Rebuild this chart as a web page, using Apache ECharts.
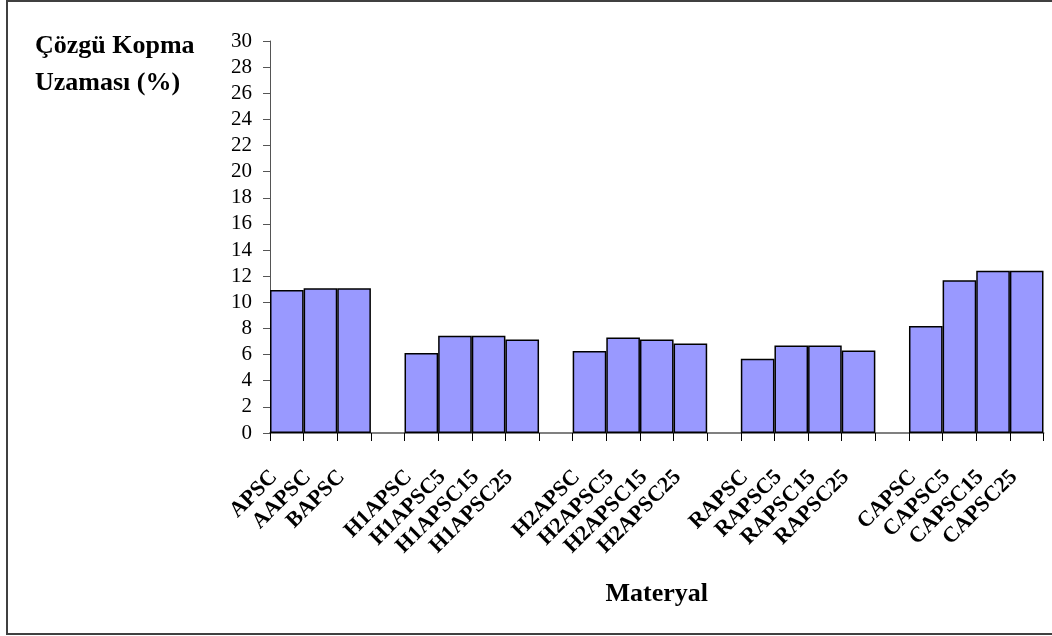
<!DOCTYPE html>
<html>
<head>
<meta charset="utf-8">
<script src="https://cdn.jsdelivr.net/npm/echarts@6/dist/echarts.min.js"></script>
<style>
  html, body { margin: 0; padding: 0; background: #fff; }
  #chart { width: 1052px; height: 636px; }
</style>
</head>
<body>
<div id="chart"></div>
<script>
// Warp elongation at break (%) per material, in five material groups
const groupApsc = ['APSC', 'AAPSC', 'BAPSC'];
const groupH1 = ['H1APSC', 'H1APSC5', 'H1APSC15', 'H1APSC25'];
const groupH2 = ['H2APSC', 'H2APSC5', 'H2APSC15', 'H2APSC25'];
const groupR = ['RAPSC', 'RAPSC5', 'RAPSC15', 'RAPSC25'];
const groupC = ['CAPSC', 'CAPSC5', 'CAPSC15', 'CAPSC25'];

const valuesApsc = [10.95, 11.08, 11.08];
const valuesH1 = [6.13, 7.44, 7.44, 7.15];
const valuesH2 = [6.28, 7.31, 7.15, 6.85];
const valuesR = [5.69, 6.69, 6.69, 6.31];
const valuesC = [8.18, 11.69, 12.41, 12.41];

const yTicks = { min: 0, max: 30, interval: 2 };

// Build one category axis with an empty slot between groups
const groups = [groupApsc, groupH1, groupH2, groupR, groupC];
const groupValues = [valuesApsc, valuesH1, valuesH2, valuesR, valuesC];
const categories = [];
const values = [];
groups.forEach((g, gi) => {
  if (gi > 0) { categories.push(''); values.push(null); }
  g.forEach((name, i) => { categories.push(name); values.push(groupValues[gi][i]); });
});

const serif = '"Liberation Serif", "Times New Roman", serif';
const chart = echarts.init(document.getElementById('chart'));
chart.setOption({
  animation: false,
  backgroundColor: '#ffffff',
  graphic: [{
    type: 'rect',
    shape: { x: 7, y: 1, width: 1070, height: 633 },
    style: { fill: 'none', stroke: '#404040', lineWidth: 2 },
    silent: true
  }, {
    type: 'text',
    left: 35,
    top: 28,
    style: {
      text: 'Çözgü Kopma\nUzaması (%)',
      font: 'bold 26px ' + serif,
      fill: '#000',
      lineHeight: 37,
      align: 'left'
    }
  }],
  grid: { left: 270, right: 8.5, top: 41, bottom: 203, containLabel: false },
  xAxis: {
    type: 'category',
    data: categories,
    boundaryGap: true,
    name: 'Materyal',
    nameLocation: 'middle',
    nameGap: 148,
    nameTextStyle: { fontFamily: serif, fontWeight: 'bold', fontSize: 26, color: '#000' },
    axisLine: { lineStyle: { color: '#808080', width: 2 } },
    axisTick: { show: true, alignWithLabel: false, length: 8, lineStyle: { color: '#000', width: 1 }, interval: 0 },
    axisLabel: {
      interval: 0,
      rotate: 45,
      margin: 28,
      padding: [0, 18, 0, 0],
      fontFamily: serif,
      fontWeight: 'bold',
      fontSize: 22,
      color: '#000'
    }
  },
  yAxis: {
    type: 'value',
    min: yTicks.min,
    max: yTicks.max,
    interval: yTicks.interval,
    axisLine: { show: true, lineStyle: { color: '#555', width: 1 } },
    axisTick: { show: true, length: 7, lineStyle: { color: '#555' } },
    splitLine: { show: false },
    axisLabel: { margin: 18, fontFamily: serif, fontSize: 21, color: '#000' }
  },
  series: [{
    type: 'bar',
    data: values,
    barWidth: '100%',
    barCategoryGap: '0%',
    itemStyle: { color: '#9999ff', borderColor: '#000', borderWidth: 1.5 }
  }]
});
</script>
</body>
</html>
